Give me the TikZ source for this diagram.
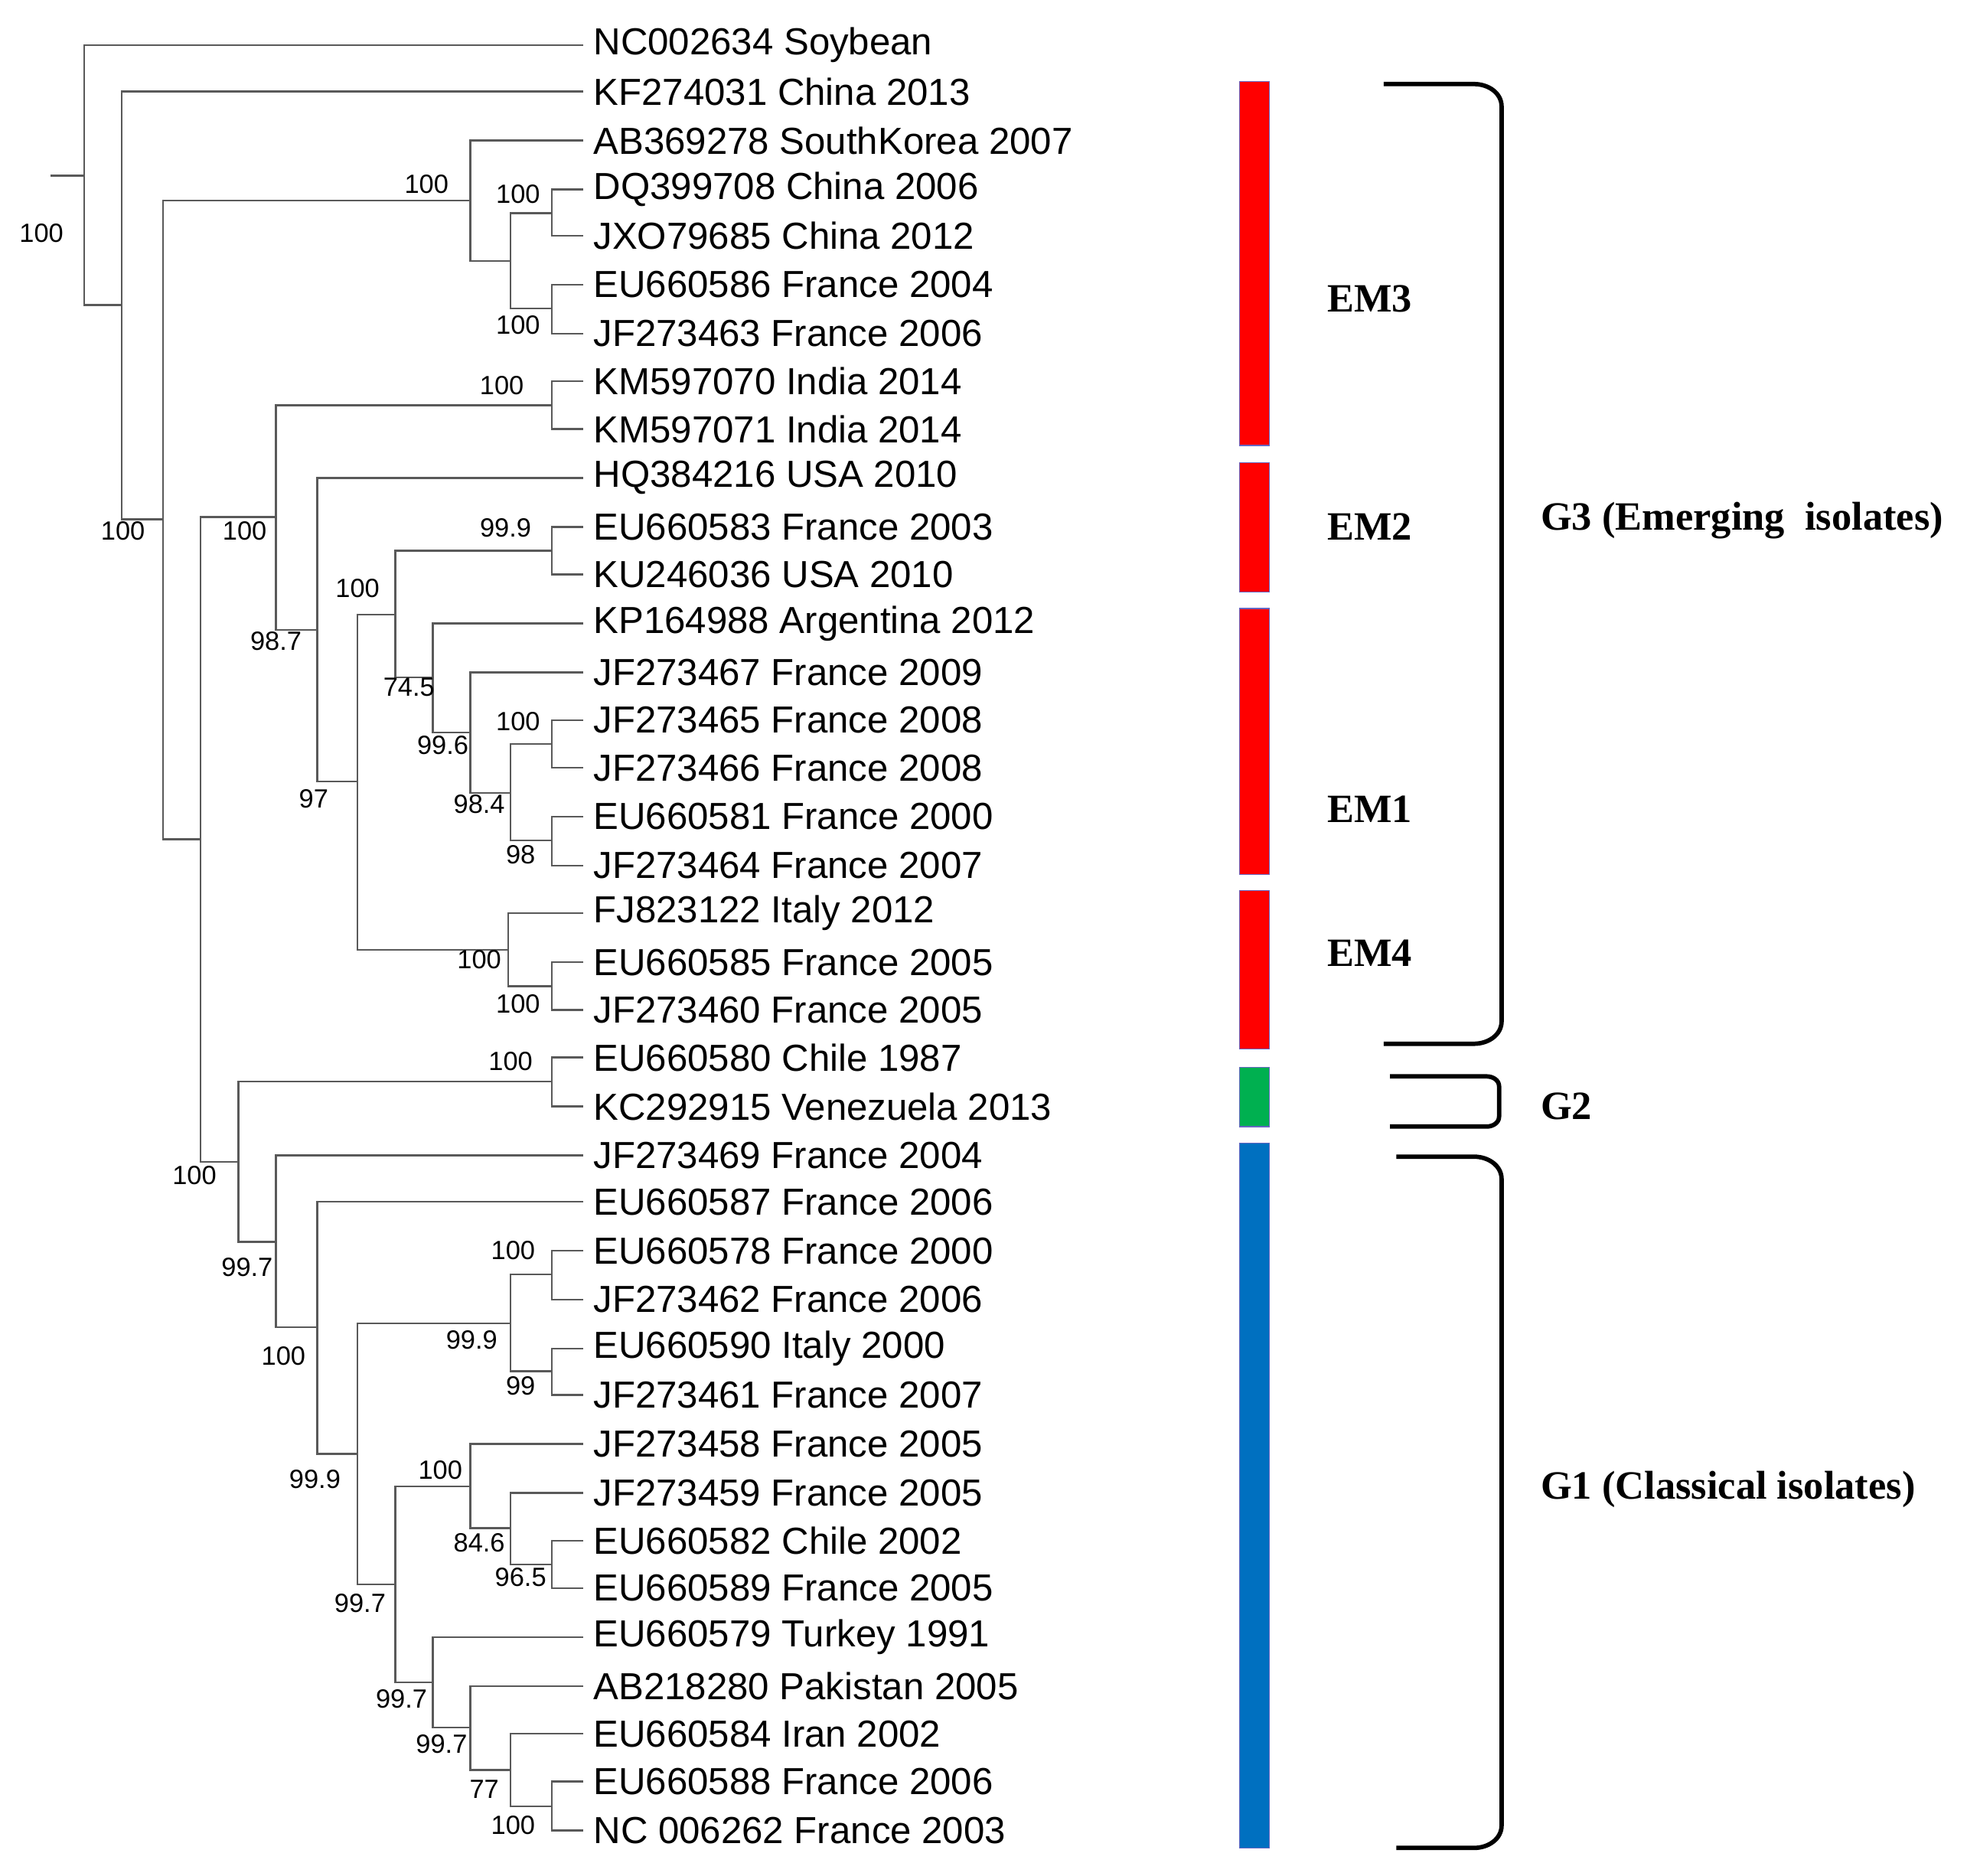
\documentclass[tikz,border=0pt]{standalone}
\usepackage{fontspec}
\setmainfont{Liberation Sans}
\newfontfamily\serifb{Liberation Serif}
\definecolor{barblue}{HTML}{0070C0}
\definecolor{bargreen}{HTML}{00B050}
\begin{document}
\begin{tikzpicture}[x=1pt,y=-1pt,
  br/.style={draw=black!65,line width=1.5pt},
  leaf/.style={anchor=west,inner sep=0pt,font=\fontsize{30}{30}\selectfont},
  bs/.style={inner sep=0pt,font=\fontsize{21}{21}\selectfont},
  grp/.style={anchor=west,inner sep=0pt,font=\serifb\bfseries\fontsize{32}{32}\selectfont},
  bar/.style={draw=black!40!blue!60,line width=0.8pt},
  brk/.style={draw=black,line width=3.5pt}]
\useasboundingbox (0,0) rectangle (1568,1495);
\newcommand\nd[5]{\draw[br] (#3,#2) -- (#1,#2) -- (#1,#4) -- (#5,#4);}
\draw[br] (40,140) -- (67,140);
\nd{67}{36}{465}{243}{97}
\nd{97}{73}{465}{414}{130}
\nd{130}{160}{375}{669}{160}
\nd{375}{112}{465}{208}{407}
\nd{407}{170}{440}{246}{440}
\nd{440}{151}{465}{188}{465}
\nd{440}{227}{465}{266}{465}
\nd{160}{412}{220}{926}{190}
\nd{220}{323}{440}{502}{253}
\nd{440}{304}{465}{342}{465}
\nd{253}{381}{465}{623}{285}
\nd{285}{490}{315}{757}{405}
\nd{315}{439}{440}{540}{345}
\nd{440}{420}{465}{458}{465}
\nd{345}{497}{465}{584}{375}
\nd{375}{536}{465}{632}{407}
\nd{407}{593}{440}{670}{440}
\nd{440}{574}{465}{612}{465}
\nd{440}{651}{465}{690}{465}
\nd{405}{728}{465}{786}{440}
\nd{440}{767}{465}{805}{465}
\nd{190}{862}{440}{990}{220}
\nd{440}{843}{465}{882}{465}
\nd{220}{921}{465}{1058}{253}
\nd{253}{958}{465}{1159}{285}
\nd{285}{1055}{407}{1263}{315}
\nd{407}{1016}{440}{1093}{440}
\nd{440}{997}{465}{1036}{465}
\nd{440}{1075}{465}{1112}{465}
\nd{315}{1185}{375}{1341}{345}
\nd{375}{1151}{465}{1218}{407}
\nd{407}{1190}{465}{1247}{440}
\nd{440}{1228}{465}{1266}{465}
\nd{345}{1305}{465}{1377}{375}
\nd{375}{1344}{465}{1411}{407}
\nd{407}{1382}{465}{1440}{440}
\nd{440}{1420}{465}{1459}{465}
\foreach \y/\t in {36/NC002634 Soybean,73/KF274031 China 2013,112/AB369278 SouthKorea 2007,151/DQ399708 China 2006,188/JXO79685 China 2012,227/EU660586 France 2004,266/JF273463 France 2006,304/KM597070 India 2014,342/KM597071 India 2014,381/HQ384216 USA 2010,420/EU660583 France 2003,458/KU246036 USA 2010,497/KP164988 Argentina 2012,536/JF273467 France 2009,574/JF273465 France 2008,612/JF273466 France 2008,651/EU660581 France 2000,690/JF273464 France 2007,728/FJ823122 Italy 2012,767/EU660585 France 2005,805/JF273460 France 2005,843/EU660580 Chile 1987,882/KC292915 Venezuela 2013,921/JF273469 France 2004,958/EU660587 France 2006,997/EU660578 France 2000,1036/JF273462 France 2006,1075/EU660590 Italy 2000,1112/JF273461 France 2007,1151/JF273458 France 2005,1190/JF273459 France 2005,1228/EU660582 Chile 2002,1266/EU660589 France 2005,1305/EU660579 Turkey 1991,1344/AB218280 Pakistan 2005,1382/EU660584 Iran 2002,1420/EU660588 France 2006,1459/NC 006262 France 2003}
  \node[leaf] at (473,\y) {\t};
\foreach \x/\y/\t in {33/186/100,98/423/100,340/147/100,413/155/100,413/259/100,195/423/100,400/307/100,220/511/98.7,250/637/97,285/469/100,403/421/99.9,326/548/74.5,353/594/99.6,382/641/98.4,413/575/100,415/681/98,382/765/100,413/800/100,155/937/100,407/846/100,197/1010/99.7,226/1081/100,251/1179/99.9,376/1068/99.9,409/997/100,415/1105/99,287/1278/99.7,351/1172/100,382/1230/84.6,415/1257/96.5,320/1354/99.7,352/1390/99.7,386/1426/77,409/1455/100}
  \node[bs] at (\x,\y) {\t};
\fill[red,bar] (988,65) rectangle (1012,355);
\fill[red,bar] (988,369) rectangle (1012,472);
\fill[red,bar] (988,485) rectangle (1012,697);
\fill[red,bar] (988,710) rectangle (1012,836);
\fill[bargreen,bar] (988,851) rectangle (1012,898);
\fill[barblue,bar] (988,911) rectangle (1012,1473);
\node[grp] at (1058,238) {EM3};
\node[grp] at (1058,420) {EM2};
\node[grp] at (1058,645) {EM1};
\node[grp] at (1058,760) {EM4};
\node[grp] at (1228,415) {G3 (Emerging\ \ isolates)};
\node[grp] at (1228,882) {G2};
\node[grp] at (1228,1187) {G1 (Classical isolates)};
\draw[brk] (1103,67) -- (1175,67) to[out=0,in=90] (1197,85) -- (1197,814) to[out=-90,in=0] (1175,832) -- (1103,832);
\draw[brk] (1108,858) -- (1185,858) to[out=0,in=90] (1195,866) -- (1195,890) to[out=-90,in=0] (1185,898) -- (1108,898);
\draw[brk] (1113,922) -- (1175,922) to[out=0,in=90] (1197,940) -- (1197,1455) to[out=-90,in=0] (1175,1473) -- (1113,1473);
\end{tikzpicture}
\end{document}
